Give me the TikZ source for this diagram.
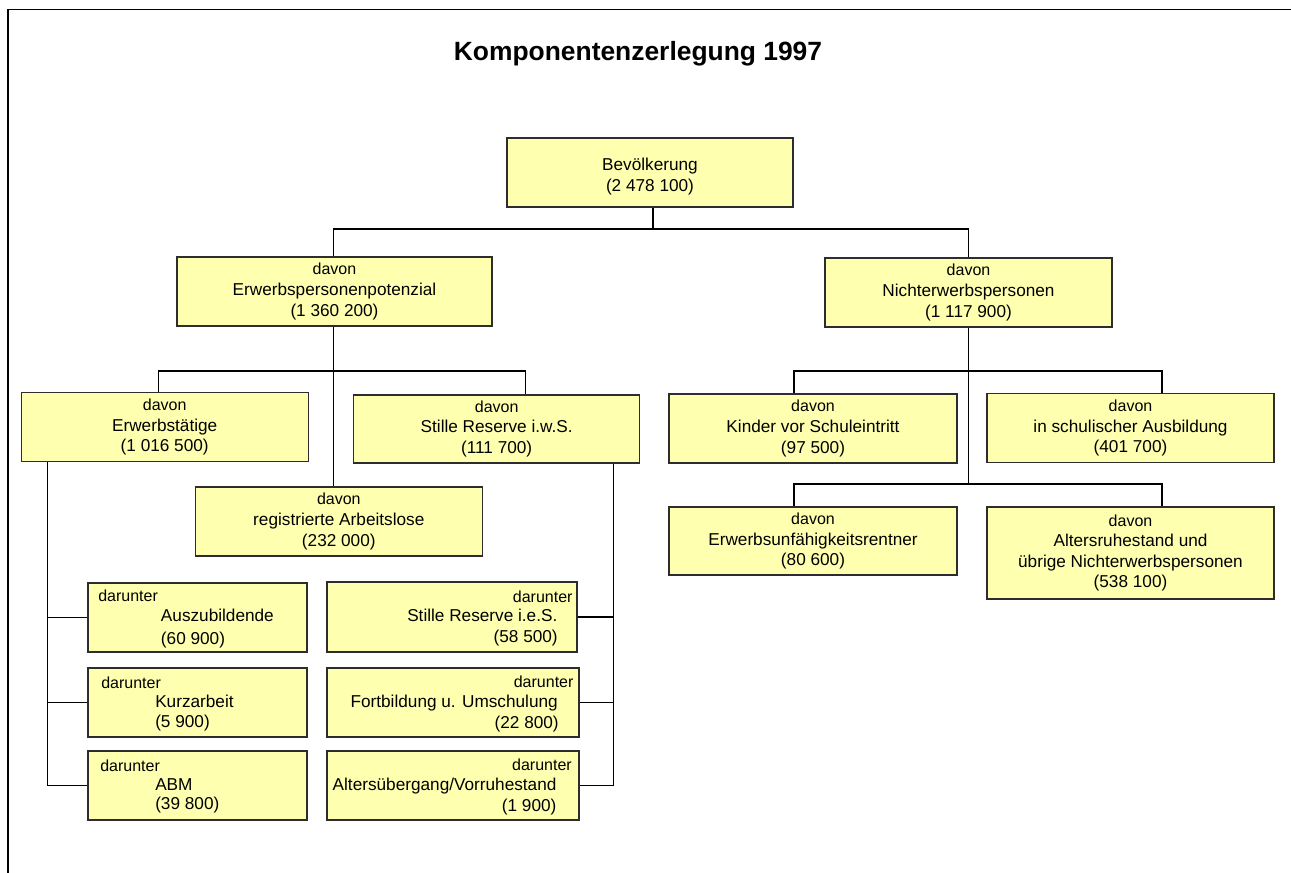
\documentclass[tikz,border=0pt]{standalone}
\usepackage{fontspec}
\setmainfont{Liberation Sans}
\definecolor{boxfill}{RGB}{255,255,176}
\definecolor{boxline}{RGB}{45,45,45}
\tikzset{
  box/.style={draw=boxline, fill=boxfill, line width=1pt, inner sep=0pt, align=center,
    font=\fontsize{12.9}{15.4}\selectfont},
  bsize/.style 2 args={minimum width=#1*0.75pt, minimum height=#2*0.75pt},
  txt/.style={inner sep=0pt, font=\fontsize{12.9}{15.4}\selectfont},
  small/.style={inner sep=0pt, font=\fontsize{12}{15.4}\selectfont},
  conn/.style={draw=black, line width=0.85pt},
  frame/.style={draw=black, line width=1.1pt}
}
\newcommand{\dv}{{\fontsize{12}{15.4}\selectfont davon}}
\begin{document}
\begin{tikzpicture}[x=0.75pt,y=-0.75pt]
\useasboundingbox (0,0) rectangle (1291,873);
% frame (only top and left edges are visible)
\draw[frame] (8,873) -- (8,9.5) -- (1291,9.5);
% title
\node[inner sep=0pt, font=\fontsize{19.8}{24}\selectfont\bfseries] (title) at (638,53.7) {Komponentenzerlegung 1997};

% level 0/1
\node[box, bsize={286}{69}] (bev) at (650,172.5) {\rule{0pt}{15.5pt}Bevölkerung\\(2 478 100)};
\node[box, bsize={315}{69}] (ep) at (334.5,291.5) {\dv\\Erwerbspersonenpotenzial\\(1 360 200)};
\node[box, bsize={287}{69}] (ne) at (968.5,292.5) {\dv\\Nichterwerbspersonen\\(1 117 900)};

% level 2 left
\node[box, bsize={287}{69}] (et) at (164.7,427.3) {\dv\\Erwerbstätige\\(1 016 500)};
\node[box, bsize={286}{68}] (sr) at (496.7,428.9) {\dv\\Stille Reserve i.w.S.\\(111 700)};
\node[box, bsize={287}{69}] (reg) at (338.8,521.5) {\dv\\registrierte Arbeitslose\\(232 000)};

% level 2 right
\node[box, bsize={288}{69}] (kv) at (813,428.5) {\dv\\Kinder vor Schuleintritt\\(97 500)};
\node[box, bsize={287}{69}] (sa) at (1130.5,428.2) {\dv\\in schulischer Ausbildung\\(401 700)};
\node[box, bsize={288}{68}] (eu) at (813,541) {\dv\\Erwerbsunfähigkeitsrentner\\(80 600)};
\node[box, bsize={287}{92}] (ar) at (1130.5,553) {\dv\\Altersruhestand und\\übrige Nichterwerbspersonen\\(538 100)};

% darunter boxes, left column
\node[box, bsize={219}{69}] (azb) at (197.5,617.5) {};
\node[box, bsize={219}{69}] (kz) at (197.5,702.5) {};
\node[box, bsize={219}{69}] (abm) at (197.5,785.5) {};
\node[small, anchor=base west] (azb1) at (98,601) {darunter};
\node[txt, anchor=base west] (azb2) at (160.7,621) {Auszubildende};
\node[txt, anchor=base west] (azb3) at (160.7,644) {(60 900)};
\node[small, anchor=base west] (kz1) at (101,688.7) {darunter};
\node[txt, anchor=base west] (kz2) at (155,707.7) {Kurzarbeit};
\node[txt, anchor=base west] (kz3) at (155,727.7) {(5 900)};
\node[small, anchor=base west] (abm1) at (100,771) {darunter};
\node[txt, anchor=base west] (abm2) at (155,790) {ABM};
\node[txt, anchor=base west] (abm3) at (155,809.3) {(39 800)};

% darunter boxes, right column
\node[box, bsize={250}{70}] (sie) at (452,617) {};
\node[box, bsize={252}{69}] (fb) at (453,702.5) {};
\node[box, bsize={252}{69}] (av) at (453,785.5) {};
\node[small, anchor=base east] (sie1) at (572.8,602) {darunter};
\node[txt, anchor=base east] (sie2) at (557.6,621.3) {Stille Reserve i.e.S.};
\node[txt, anchor=base east] (sie3) at (558,642.7) {(58 500)};
\node[small, anchor=base east] (fb1) at (573.7,687.7) {darunter};
\node[txt, anchor=base east] (fb2) at (558,707.7) {Fortbildung u. Umschulung};
\node[txt, anchor=base east] (fb3) at (559,728.3) {(22 800)};
\node[small, anchor=base east] (av1) at (572,770) {darunter};
\node[txt, anchor=base east] (av2) at (556.7,790.3) {Altersübergang/Vorruhestand};
\node[txt, anchor=base east] (av3) at (556.7,811.3) {(1 900)};

% connector coordinates
\coordinate (j0) at (653,229);
\coordinate (c0) at (333.5,371);
\coordinate (c1) at (158.5,371);
\coordinate (c2) at (525.4,371);
\coordinate (d1) at (794,371);
\coordinate (d2) at (1162,371);
\coordinate (d3) at (794,484);
\coordinate (d4) at (1162,484);
\coordinate (lbx) at (47.3,0);
\coordinate (rbx) at (613.8,0);

% connectors
\draw[conn] (bev.south -| j0) -- (j0);
\draw[conn] (ep.north -| c0) |- (j0) -| (ne.north);
\draw[conn] (ep.south -| c0) -- (reg.north -| c0);
\draw[conn] (et.north -| c1) -- (c1) -- (c2) -- (sr.north -| c2);
\draw[conn] (ne.south) -- (ne.south |- d3);
\draw[conn] (kv.north -| d1) -- (d1) -- (d2) -- (sa.north -| d2);
\draw[conn] (eu.north -| d3) -- (d3) -- (d4) -- (ar.north -| d4);
% left bracket
\draw[conn] (et.south -| lbx) |- (abm.west);
\draw[conn] (azb.west) -- (azb.west -| lbx);
\draw[conn] (kz.west) -- (kz.west -| lbx);
% right bracket
\draw[conn] (sr.south -| rbx) |- (av.east);
\draw[conn] (sie.east) -- (sie.east -| rbx);
\draw[conn] (fb.east) -- (fb.east -| rbx);
\end{tikzpicture}
\end{document}
